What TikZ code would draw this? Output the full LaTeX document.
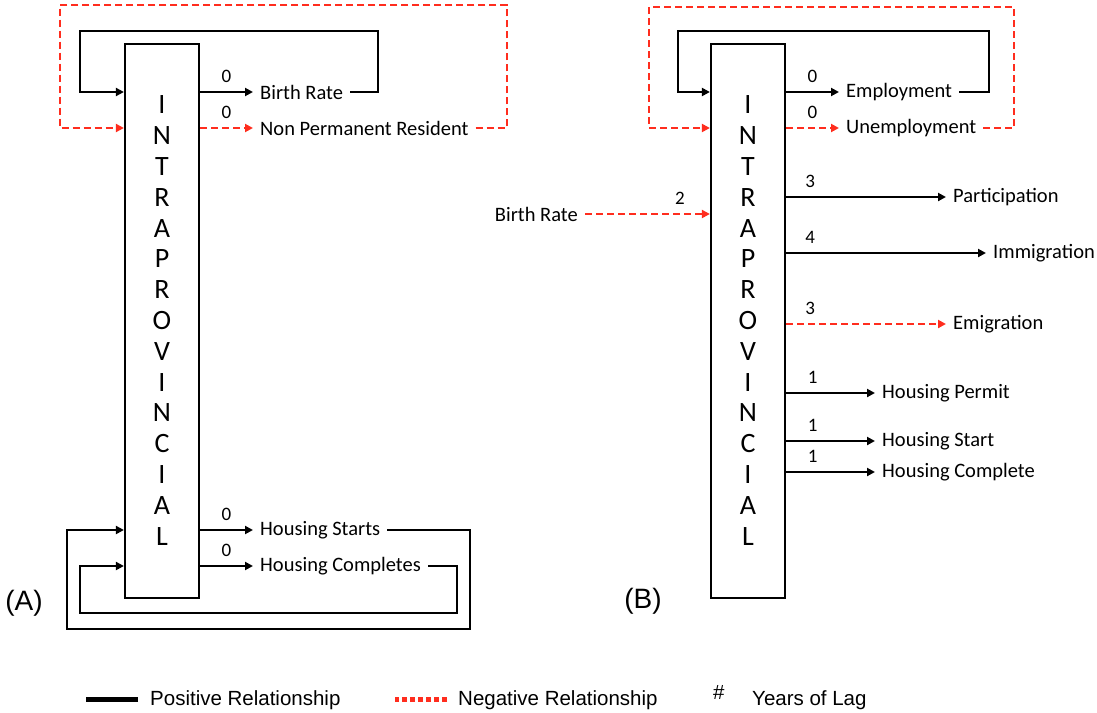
\documentclass[tikz,border=0pt]{standalone}
\usepackage{fontspec}
\setmainfont{Carlito}
\newfontfamily\arialfont{Liberation Sans}
\usetikzlibrary{arrows.meta,positioning}
\definecolor{negred}{RGB}{255,45,30}

\begin{document}
\begin{tikzpicture}[x=1pt,y=-1pt,
    intra/.style={draw,line width=2.2pt,minimum width=74pt,minimum height=554pt},
    posrel/.style={line width=2.5pt,-{Triangle[length=8pt,width=8pt]}},
    negrel/.style={posrel,negred,dash pattern=on 7pt off 4pt},
    var/.style={font=\fontsize{20.5}{24}\selectfont,inner xsep=7pt,inner ysep=2pt},
    lag/.style={font=\fontsize{19}{22}\selectfont,text=black,inner sep=1pt,above=7pt},
    letter/.style={font=\fontsize{28}{30}\selectfont,inner sep=0pt},
    tag/.style={font=\arialfont\fontsize{28}{30}\selectfont},
    legend/.style={font=\arialfont\fontsize{20.5}{22}\selectfont,inner sep=0pt,anchor=base west}]
 \useasboundingbox (0,0) rectangle (1097,712);
 % panel A
 \node[intra] (boxA) at (162,321) {};
 \foreach \L [count=\i from 0] in {I,N,T,R,A,P,R,O,V,I,N,C,I,A,L}
  \node[letter] (lA\i) at (162,105+30.8*\i) {\L};
 \node[var,anchor=west] (brA) at (253,92) {Birth Rate};
 \node[var,anchor=west] (npA) at (253,128) {Non Permanent Resident};
 \node[var,anchor=west] (hsA) at (253,530) {Housing Starts};
 \node[var,anchor=west] (hcA) at (253,566) {Housing Completes};
 \node[tag] (tagA) at (24,603) {(A)};
 \draw[posrel] (boxA.east |- brA) -- node[lag]{0} (brA.west);
 \draw[negrel] (boxA.east |- npA) -- node[lag]{0} (npA.west);
 \draw[posrel] (boxA.east |- hsA) -- node[lag]{0} (hsA.west);
 \draw[posrel] (boxA.east |- hcA) -- node[lag]{0} (hcA.west);
 \draw[posrel] (brA.east) -| (378,31) -| (80,92) -- (boxA.west |- brA);
 \draw[negrel] (npA.east) -| (507,5) -| (60,128) -- (boxA.west |- npA);
 \draw[posrel] (hsA.east) -| (470,629) -| (67,530) -- (boxA.west |- hsA);
 \draw[posrel] (hcA.east) -| (457,613) -| (80,566) -- (boxA.west |- hcA);
 % panel B
 \node[intra] (boxB) at (748,321) {};
 \foreach \L [count=\i from 0] in {I,N,T,R,A,P,R,O,V,I,N,C,I,A,L}
  \node[letter] (lB\i) at (748,105+30.8*\i) {\L};
 \node[var,anchor=west] (emB) at (839,92) {Employment};
 \node[var,anchor=west] (unB) at (839,128) {Unemployment};
 \node[var,anchor=east] (brB) at (585,214) {Birth Rate};
 \node[var,anchor=west] (paB) at (946,197) {Participation};
 \node[var,anchor=west] (imB) at (986,253) {Immigration};
 \node[var,anchor=west] (eoB) at (946,324) {Emigration};
 \node[var,anchor=west] (hpB) at (875,393) {Housing Permit};
 \node[var,anchor=west] (hsB) at (875,441) {Housing Start};
 \node[var,anchor=west] (hcB) at (875,472) {Housing Complete};
 \node[tag] (tagB) at (643,601) {(B)};
 \draw[posrel] (boxB.east |- emB) -- node[lag]{0} (emB.west);
 \draw[negrel] (boxB.east |- unB) -- node[lag]{0} (unB.west);
 \draw[negrel] (brB.east) -- node[lag,pos=.76]{2} (boxB.west |- brB);
 \draw[posrel] (boxB.east |- paB) -- node[lag,pos=.15]{3} (paB.west);
 \draw[posrel] (boxB.east |- imB) -- node[lag,pos=.12]{4} (imB.west);
 \draw[negrel] (boxB.east |- eoB) -- node[lag,pos=.15]{3} (eoB.west);
 \draw[posrel] (boxB.east |- hpB) -- node[lag,pos=.3]{1} (hpB.west);
 \draw[posrel] (boxB.east |- hsB) -- node[lag,pos=.3]{1} (hsB.west);
 \draw[posrel] (boxB.east |- hcB) -- node[lag,pos=.3]{1} (hcB.west);
 \draw[posrel] (emB.east) -| (989,31) -| (678,92) -- (boxB.west |- emB);
 \draw[negrel] (unB.east) -| (1014,7) -| (649,128) -- (boxB.west |- unB);
 % legend
 \node[legend] (posT) at (150,705) {Positive Relationship};
 \node[legend] (negT) at (458,705) {Negative Relationship};
 \node[legend] (hashT) at (713,699) {\#};
 \node[legend] (lagT) at (752,705) {Years of Lag};
 \draw[line width=5pt] (posT.west |- 0,699) ++(-12,0) -- ++(-52,0);
 \draw[line width=5pt,negred,dash pattern=on 5pt off 3pt] (negT.west |- 0,699) ++(-11,0) -- ++(-52,0);
\end{tikzpicture}
\end{document}
